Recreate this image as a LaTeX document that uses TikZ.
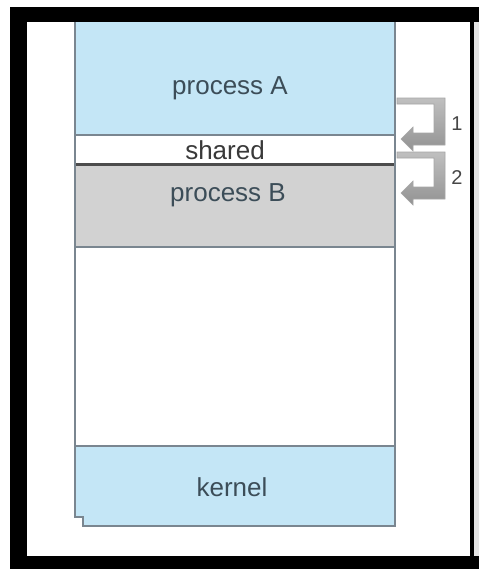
\documentclass[tikz,border=0pt]{standalone}
\usepackage{fontspec}
\setmainfont{Liberation Sans}
\definecolor{memblue}{RGB}{196,230,246}
\definecolor{memgray}{RGB}{210,210,210}
\definecolor{memline}{RGB}{122,134,144}
\definecolor{memtext}{RGB}{60,77,88}
\begin{document}
\begin{tikzpicture}[x=0.5pt,y=0.5pt]
\tikzstyle{every node}+=[inner sep=0pt]
\tikzstyle{region}=[font=\fontsize{13}{15}\selectfont, text=memtext]
\tikzstyle{turn}=[top color=gray!50, bottom color=gray!85, draw=gray!70, line width=0.3pt]
\useasboundingbox (0,0) rectangle (479,-569);
% frame
\fill [white] (0,0) rectangle (479,-569);
\fill [gray!20] (474,-22) rectangle (479,-556);
\fill [black] (10,-7) rectangle (479,-22);
\fill [black] (10,-7) rectangle (27,-569);
\fill [black] (10,-556) rectangle (479,-569);
\fill [black] (470,-22) rectangle (474,-556);
% memory regions
\fill [memblue] (75,-22) rectangle (395,-135);
\fill [memgray] (75,-164) rectangle (395,-247);
\fill [memblue] (75,-446) -- (395,-446) -- (395,-526) -- (83,-526) -- (83,-517) -- (75,-517) -- cycle;
\draw [memline, line width=1pt] (75,-135) -- (395,-135);
\draw [black!70, line width=1.5pt] (75,-164) -- (395,-164);
\draw [memline, line width=1pt] (75,-247) -- (395,-247);
\draw [memline, line width=1pt] (75,-446) -- (395,-446);
\draw [memline, line width=1.1pt] (75,-22) -- (75,-517) -- (83,-517) -- (83,-526) -- (395,-526) -- (395,-22);
\node [region] (procA) at (230,-88) {process A};
\node [region, text=gray!45!black] (shared) at (225,-150) {shared};
\node [region] (procB) at (228,-195) {process B};
\node [region] (kernel) at (232,-487) {kernel};
% mapping arrows
\foreach \dy/\lab in {0/1,54/2} {
  \draw [turn] (397,-98-\dy) -- (445,-98-\dy) -- (445,-145-\dy) -- (413,-145-\dy)
    -- (413,-151-\dy) -- (401,-139-\dy) -- (413,-127-\dy) -- (413,-133-\dy)
    -- (434,-133-\dy) -- (434,-104-\dy) -- (397,-104-\dy) -- cycle;
  \node [font=\fontsize{10}{11}\selectfont, text=gray!55!black] (num\lab) at (457,-124-\dy) {\lab};
}
\end{tikzpicture}
\end{document}
